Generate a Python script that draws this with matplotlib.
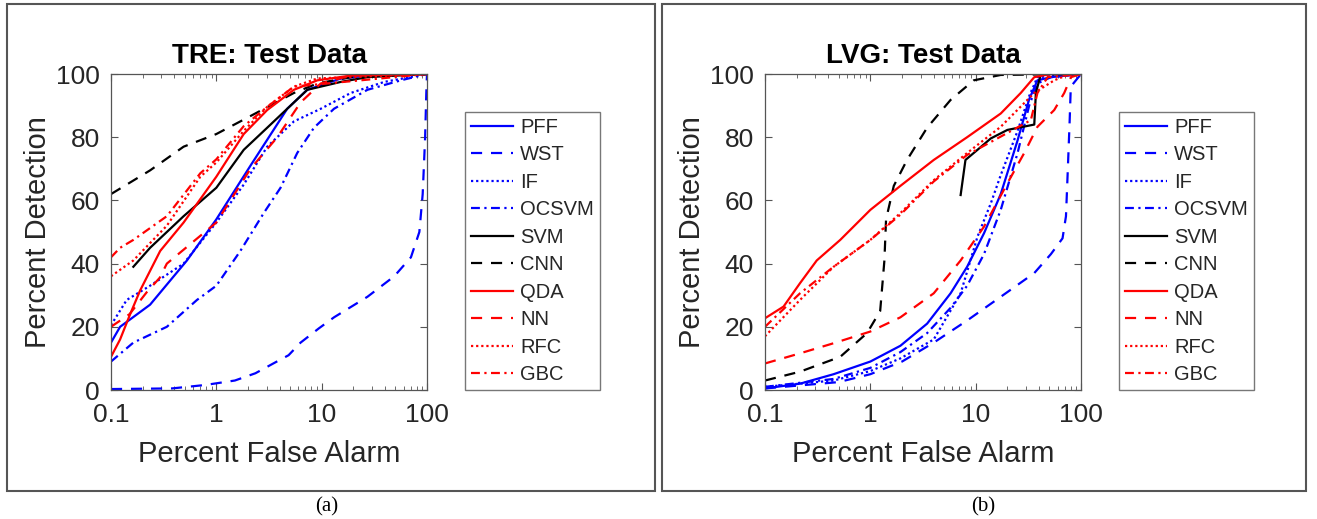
import matplotlib
matplotlib.use("Agg")
import matplotlib.pyplot as plt
from matplotlib.patches import Rectangle
import numpy as np

plt.rcParams['font.family'] = ['Liberation Sans', 'DejaVu Sans']

labels = ["PFF", "WST", "IF", "OCSVM", "SVM", "CNN", "QDA", "NN", "RFC", "GBC"]

# ---------------- TRE: Test Data ----------------
tre_pff_x = [0.1, 0.122, 0.235, 0.526, 1.0, 2.11, 4.71, 7.3, 15, 30, 100]
tre_pff_y = [15, 20, 27, 41, 54, 71, 89, 95, 98.5, 99.7, 100]
tre_wst_x = [0.1, 0.38, 0.79, 1.5, 2.35, 3.52, 4.85, 6.31, 9.4, 13.1, 27.2, 48.9, 70.4, 84.6, 91, 96, 98.5, 100]
tre_wst_y = [0.3, 0.5, 1.6, 3, 5.3, 8.5, 11, 15, 19.5, 23, 29.5, 36, 42, 50, 62, 80, 94, 100]
tre_if_x = [0.1, 0.141, 0.235, 0.489, 1.0, 1.82, 3.04, 5.45, 9.8, 18.9, 39.3, 100]
tre_if_y = [20.5, 28.5, 33, 40, 53, 65, 77, 85, 89, 94, 97.5, 100]
tre_ocsvm_x = [0.1, 0.163, 0.339, 0.655, 1.0, 1.69, 2.82, 4.07, 5.86, 8.45, 13.1, 27.2, 56.5, 100]
tre_ocsvm_y = [9, 15, 20, 28.5, 33, 44, 56, 64, 75, 83, 89, 95, 98, 100]
tre_svm_x = [0.163, 0.235, 0.489, 1.0, 1.82, 3.04, 4.71, 7.3, 15.2, 27.2, 100]
tre_svm_y = [39, 45, 55, 64, 76, 83, 89, 95, 97.5, 99, 100]
tre_cnn_x = [0.1, 0.235, 0.489, 1.0, 1.69, 3.04, 5.45, 9.1, 18.9, 100]
tre_cnn_y = [62, 69.5, 77, 81, 85, 89.5, 94, 97, 99, 100]
tre_qda_x = [0.1, 0.122, 0.152, 0.189, 0.293, 0.489, 1.0, 1.82, 3.04, 5.45, 9.1, 18.9, 100]
tre_qda_y = [10.5, 16, 24, 31.5, 44, 53, 67.5, 81, 88.6, 95, 98, 99.5, 100]
tre_nn_x = [0.1, 0.15, 0.219, 0.29, 0.339, 1.0, 2.11, 3.79, 6.31, 9.8, 18.9, 100]
tre_nn_y = [20, 24, 31, 35.5, 40, 53, 70, 80, 91, 97, 99.5, 100]
tre_rfc_x = [0.1, 0.163, 0.339, 0.705, 1.0, 1.82, 3.04, 5.45, 9.1, 100]
tre_rfc_y = [36, 41, 52, 67.5, 72, 82, 89.6, 96, 98.6, 100]
tre_gbc_x = [0.1, 0.122, 0.163, 0.339, 0.705, 1.0, 1.82, 3.04, 5.45, 100]
tre_gbc_y = [42, 45, 47.5, 55, 68.6, 73, 83.5, 89.6, 96, 100]

# ---------------- LVG: Test Data ----------------
lvg_pff_x = [0.1, 0.215, 0.448, 1.0, 1.93, 3.46, 5.78, 8.3, 12, 17.3, 25, 32.2, 38.6, 51.8, 100]
lvg_pff_y = [0.5, 2, 5, 9, 14, 21, 30.6, 39, 49.6, 62, 79, 92, 98, 99, 100]
lvg_wst_x = [0.1, 0.5, 1.0, 2.0, 4.0, 8.3, 17.3, 36, 51.8, 66.8, 72, 75, 78, 80, 100]
lvg_wst_y = [0.5, 2.5, 5, 9, 15, 22, 29.5, 37, 43, 48, 55, 70, 85, 96, 100]
lvg_if_x = [0.1, 0.448, 1.0, 1.93, 4.0, 7.2, 10.4, 13.9, 17.3, 25, 32.2, 38.6, 100]
lvg_if_y = [1, 3, 6, 10, 16, 30.6, 48.5, 59, 68, 82, 93, 99, 100]
lvg_ocsvm_x = [0.1, 0.448, 1.0, 1.93, 3.46, 5.78, 8.3, 12, 17.3, 25, 32.2, 38.6, 51.8, 100]
lvg_ocsvm_y = [1, 3.5, 7, 12, 18, 26, 33, 43, 57, 75, 90, 97, 99, 100]
lvg_svm_x = [7.2, 8.0, 10.4, 13.9, 20, 36, 37.3, 41.6, 100]
lvg_svm_y = [61.7, 72.8, 76, 79.6, 82.3, 84, 94, 100, 100]
lvg_cnn_x = [0.1, 0.215, 0.518, 0.93, 1.24, 1.36, 1.41, 1.67, 2.23, 3.46, 5.78, 9.6, 17.3, 100]
lvg_cnn_y = [3, 5.8, 10.5, 18, 25, 41, 54, 64.6, 72.8, 83, 91.8, 98, 99.7, 100]
lvg_qda_x = [0.1, 0.15, 0.215, 0.31, 0.518, 1.0, 1.93, 4.0, 8.3, 17.3, 26.8, 36, 51.8, 100]
lvg_qda_y = [22.7, 26.4, 33.8, 41, 47.5, 57, 64.6, 72.8, 80, 87.5, 94, 99, 100, 100]
lvg_nn_x = [0.1, 0.215, 0.448, 1.0, 1.93, 4.0, 7.2, 12, 20, 28.9, 38.6, 55.7, 69.3, 80.3, 100]
lvg_nn_y = [8.4, 11.6, 14.8, 18.5, 23, 30.6, 41, 51.7, 65.4, 75, 83.3, 88.6, 94, 99, 100]
lvg_rfc_x = [0.1, 0.215, 0.448, 1.0, 1.93, 4.0, 8.3, 17.3, 26.8, 36, 55.7, 74.6, 100]
lvg_rfc_y = [17, 28.5, 39, 47.5, 56, 66.4, 75, 83.3, 89.7, 94, 98, 99.7, 100]
lvg_gbc_x = [0.1, 0.215, 0.448, 1.0, 1.93, 4.0, 8.3, 17.3, 33.4, 38.6, 48.2, 100]
lvg_gbc_y = [20, 30.6, 39, 47.5, 55.5, 66, 74.4, 80.2, 85.4, 94, 99, 100]

tre_series = [(tre_pff_x, tre_pff_y), (tre_wst_x, tre_wst_y), (tre_if_x, tre_if_y),
              (tre_ocsvm_x, tre_ocsvm_y), (tre_svm_x, tre_svm_y), (tre_cnn_x, tre_cnn_y),
              (tre_qda_x, tre_qda_y), (tre_nn_x, tre_nn_y), (tre_rfc_x, tre_rfc_y),
              (tre_gbc_x, tre_gbc_y)]
lvg_series = [(lvg_pff_x, lvg_pff_y), (lvg_wst_x, lvg_wst_y), (lvg_if_x, lvg_if_y),
              (lvg_ocsvm_x, lvg_ocsvm_y), (lvg_svm_x, lvg_svm_y), (lvg_cnn_x, lvg_cnn_y),
              (lvg_qda_x, lvg_qda_y), (lvg_nn_x, lvg_nn_y), (lvg_rfc_x, lvg_rfc_y),
              (lvg_gbc_x, lvg_gbc_y)]

colors = ['#0000ff', '#0000ff', '#0000ff', '#0000ff', 'black', 'black',
          '#ff0000', '#ff0000', '#ff0000', '#ff0000']
dash = (0, (5, 4))
dot = (0, (1, 1.3))
dashdot = (0, (4, 2, 1, 2))
styles = ['-', dash, dot, dashdot, '-', dash, '-', dash, dot, dashdot]

txt = '#262626'
W, H = 1317, 519
fig = plt.figure(figsize=(W / 100, H / 100), dpi=100)

def fx(p):
    return p / W

def fy(p):
    return 1 - p / H

# outer boxes
for (x0, x1) in [(7, 655), (662, 1306)]:
    fig.patches.append(Rectangle((fx(x0), fy(491)), fx(x1 - x0), (491 - 4) / H,
                                 transform=fig.transFigure, fill=False,
                                 edgecolor='#555555', linewidth=1.5))

def make_panel(left_px, title, series, legend_px, caption, cap_x):
    ax = fig.add_axes([fx(left_px), fy(390), fx(316), 316 / H])
    for (xs, ys), c, ls, lab in zip(series, colors, styles, labels):
        ax.plot(xs, ys, color=c, linestyle=ls, linewidth=1.6, label=lab)
    ax.set_xscale('log')
    ax.set_xlim(0.1, 100)
    ax.set_ylim(0, 100)
    ax.set_xticks([0.1, 1, 10, 100])
    ax.set_xticklabels(['0.1', '1', '10', '100'])
    ax.set_yticks([0, 20, 40, 60, 80, 100])
    ax.tick_params(axis='both', which='both', direction='in', colors='#555555',
                   labelcolor=txt, labelsize=19)
    ax.tick_params(axis='both', which='major', length=5, width=0.8)
    ax.tick_params(axis='x', which='minor', length=3, width=0.6)
    ax.tick_params(axis='x', which='both', top=True, pad=9)
    ax.tick_params(axis='y', which='both', right=True, pad=8)
    for s in ax.spines.values():
        s.set_color('#555555')
        s.set_linewidth(0.9)
    ax.set_xlabel('Percent False Alarm', fontsize=21, color=txt, labelpad=10)
    ax.set_ylabel('Percent Detection', fontsize=21, color=txt, labelpad=3)
    ax.set_title(title, fontsize=20, fontweight='bold', color='black', pad=8)
    leg = ax.legend(loc='upper left', bbox_to_anchor=(fx(legend_px), fy(112)),
                    bbox_transform=fig.transFigure, fontsize=14.5, frameon=True,
                    fancybox=False, edgecolor='#555555', handlelength=2.1,
                    handletextpad=0.35, borderpad=0.3, labelspacing=0.42,
                    borderaxespad=0)
    leg.get_frame().set_linewidth(1.0)
    for t in leg.get_texts():
        t.set_color(txt)
    fig.text(fx(cap_x), fy(507), caption, ha='center', va='center',
             fontsize=15, family='Liberation Serif', color='black')
    return ax

make_panel(111, 'TRE: Test Data', tre_series, 465, '(a)', 327)
make_panel(765, 'LVG: Test Data', lvg_series, 1119, '(b)', 983)

fig.savefig('out.png', dpi=100, facecolor='white')
